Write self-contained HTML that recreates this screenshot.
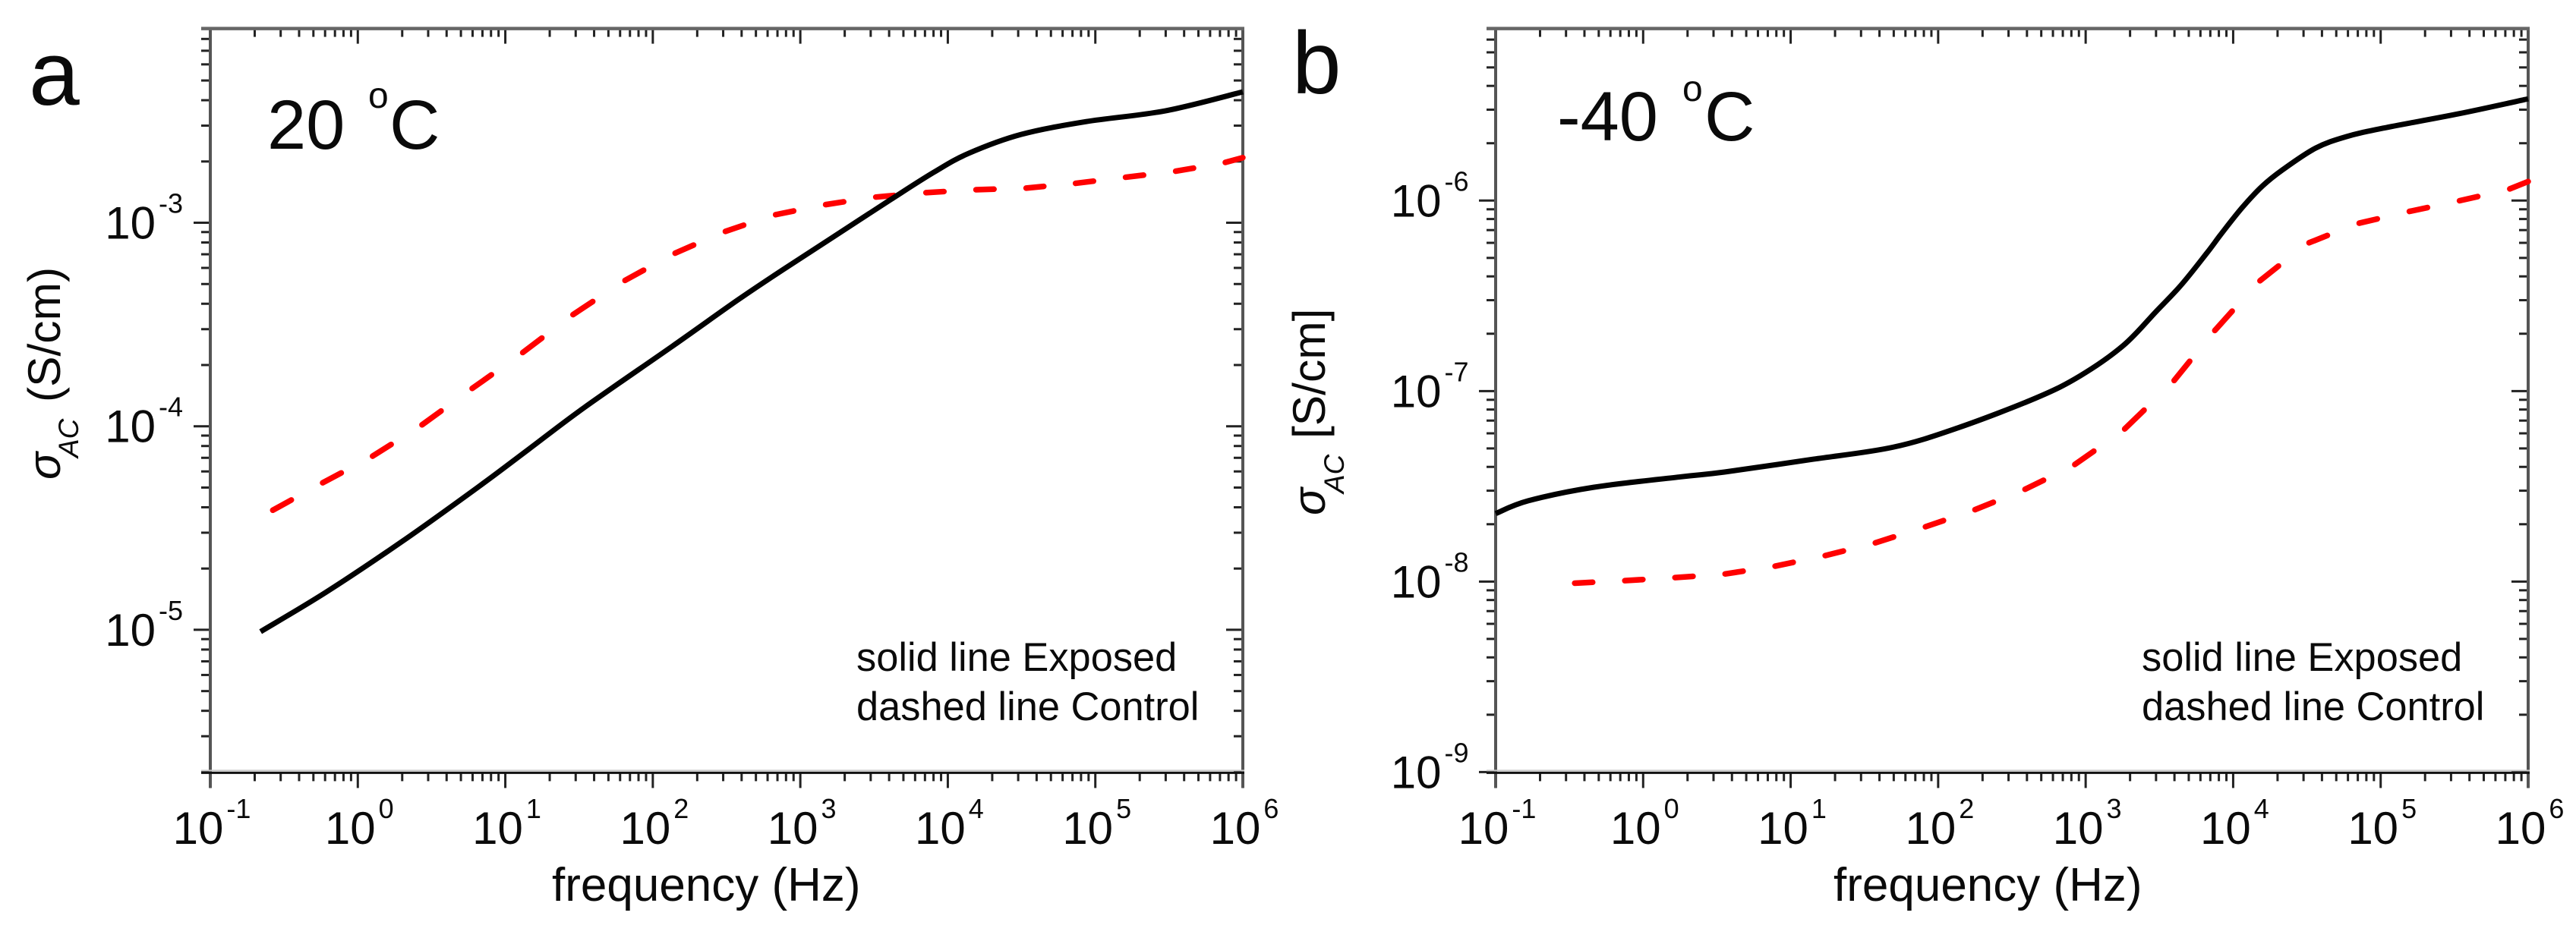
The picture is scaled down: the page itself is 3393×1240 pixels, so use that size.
<!DOCTYPE html>
<html lang="en">
<head>
<meta charset="utf-8">
<title>AC conductivity vs frequency</title>
<style>
html,body{margin:0;padding:0;background:#fff;width:3393px;height:1240px;overflow:hidden}
svg{display:block}
text{font-family:"Liberation Sans",sans-serif;fill:#0a0a0a}
</style>
</head>
<body>
<svg id="figure" xmlns="http://www.w3.org/2000/svg" width="3393" height="1240" viewBox="0 0 3393 1240">
  <rect x="0" y="0" width="3393" height="1240" fill="#fff"/>

  <g id="panel-a">
    <text x="38" y="138" font-size="120">a</text>
    <text x="352" y="196" font-size="92">20</text>
    <text x="485" y="142" font-size="48">o</text>
    <text x="513" y="196" font-size="92">C</text>
    <text x="727" y="1187" font-size="62">frequency (Hz)</text>
    <text transform="translate(79,632) rotate(-90)" font-size="60" font-style="italic">σ</text>
    <text transform="translate(103,603) rotate(-90)" font-size="37" font-style="italic">AC</text>
    <text transform="translate(79,530) rotate(-90)" font-size="60.5">(S/cm)</text>
    <text x="1128" y="884" font-size="52.4">solid line Exposed</text>
    <text x="1128" y="949" font-size="52.4">dashed line Control</text>
  </g>

  <g id="panel-b">
    <text x="1702" y="122.6" font-size="116">b</text>
    <text x="2051" y="185" font-size="92">-40</text>
    <text x="2216" y="133" font-size="48">o</text>
    <text x="2245" y="185" font-size="92">C</text>
    <text x="2415" y="1187" font-size="62">frequency (Hz)</text>
    <text transform="translate(1745,679) rotate(-90)" font-size="60" font-style="italic">σ</text>
    <text transform="translate(1770,650) rotate(-90)" font-size="37" font-style="italic">AC</text>
    <text transform="translate(1745,578) rotate(-90)" font-size="60.5">[S/cm]</text>
    <text x="2821" y="884" font-size="52.4">solid line Exposed</text>
    <text x="2821" y="949" font-size="52.4">dashed line Control</text>
  </g>
</svg>

<script>
// Tick labels (log10 exponents)
var xTickExponents = [-1, 0, 1, 2, 3, 4, 5, 6];
var yTickExponentsA = [-3, -4, -5];
var yTickExponentsB = [-6, -7, -8, -9];

// Panel a, 20 C: log10(frequency / Hz) and log10(sigma / S/cm)
var exposedLogFreqA = [-0.659, -0.213, 0.302, 0.817, 1.160, 1.537, 2.134, 2.577, 2.875, 3.225, 3.611, 3.905, 4.141, 4.497, 4.939, 5.475, 6];
var exposedLogSigmaA = [-5.009, -4.814, -4.565, -4.298, -4.112, -3.907, -3.606, -3.379, -3.234, -3.069, -2.887, -2.752, -2.659, -2.566, -2.503, -2.45, -2.357];
var controlLogFreqA = [-0.593, -0.255, 0.084, 0.420, 0.760, 1.103, 1.443, 1.795, 2.134, 2.474, 2.814, 3.153, 3.493, 3.833, 4.172, 4.512, 4.847, 5.186, 5.526, 5.863, 6];
var controlLogSigmaA = [-4.419, -4.284, -4.154, -4.001, -3.822, -3.646, -3.459, -3.290, -3.155, -3.047, -2.963, -2.913, -2.875, -2.853, -2.838, -2.831, -2.808, -2.778, -2.749, -2.707, -2.680];

// Panel b, -40 C
var exposedLogFreqB = [-1, -0.779, -0.336, 0.256, 0.552, 1.141, 1.692, 2.134, 2.664, 2.963, 3.255, 3.478, 3.649, 3.821, 3.924, 4.061, 4.198, 4.336, 4.558, 4.764, 5.022, 5.531, 6];
var exposedLogSigmaB = [-7.643, -7.576, -7.505, -7.450, -7.425, -7.359, -7.295, -7.193, -7.036, -6.920, -6.761, -6.582, -6.442, -6.276, -6.170, -6.037, -5.924, -5.838, -5.725, -5.665, -5.619, -5.544, -5.466];
var controlLogFreqB = [-0.483, -0.143, 0.197, 0.537, 0.876, 1.216, 1.556, 1.896, 2.232, 2.572, 2.911, 3.251, 3.588, 3.863, 4.167, 4.497, 4.836, 5.176, 5.516, 5.858, 6];
var controlLogSigmaB = [-8.009, -7.996, -7.980, -7.962, -7.922, -7.867, -7.801, -7.717, -7.628, -7.522, -7.394, -7.209, -6.956, -6.693, -6.430, -6.227, -6.122, -6.060, -6.004, -5.944, -5.900];

var SVG_NS = 'http://www.w3.org/2000/svg';

function makeEl(tag, parent) {
  var el = document.createElementNS(SVG_NS, tag);
  parent.appendChild(el);
  return el;
}

function linearScale(d0, d1, p0, p1) {
  return function (v) { return p0 + (v - d0) * (p1 - p0) / (d1 - d0); };
}

function drawLine(parent, x1, y1, x2, y2, color, width) {
  var l = makeEl('line', parent);
  l.setAttribute('x1', x1);
  l.setAttribute('y1', y1);
  l.setAttribute('x2', x2);
  l.setAttribute('y2', y2);
  l.setAttribute('stroke', color);
  l.setAttribute('stroke-width', width);
  return l;
}

function smoothPath(pts) {
  var d = 'M' + pts[0][0].toFixed(2) + ' ' + pts[0][1].toFixed(2);
  for (var i = 0; i < pts.length - 1; i++) {
    var p0 = pts[Math.max(0, i - 1)], p1 = pts[i], p2 = pts[i + 1], p3 = pts[Math.min(pts.length - 1, i + 2)];
    var c1x = p1[0] + (p2[0] - p0[0]) / 6, c1y = p1[1] + (p2[1] - p0[1]) / 6;
    var c2x = p2[0] - (p3[0] - p1[0]) / 6, c2y = p2[1] - (p3[1] - p1[1]) / 6;
    d += ' C' + c1x.toFixed(2) + ' ' + c1y.toFixed(2) + ' ' + c2x.toFixed(2) + ' ' + c2y.toFixed(2) + ' ' + p2[0].toFixed(2) + ' ' + p2[1].toFixed(2);
  }
  return d;
}

function drawTickLabel(parent, exponent, x, y, anchor) {
  var t = makeEl('text', parent);
  
  
  t.setAttribute('x', x);
  t.setAttribute('y', y);
  t.setAttribute('text-anchor', anchor);
  t.setAttribute('font-size', '60');
  var base = makeEl('tspan', t);
  base.textContent = '10';
  var sup = makeEl('tspan', t);
  sup.setAttribute('font-size', '36');
  sup.setAttribute('dx', '4');
  sup.setAttribute('dy', '-34');
  sup.textContent = String(exponent);
}

function drawPanel(root, left, right, top, bottom, yMinLog, yMaxLog, yExps, yLabelRight, exposedF, exposedS, controlF, controlS) {
  var xScale = linearScale(-1, 6, left, right);
  var yScale = linearScale(yMinLog, yMaxLog, bottom, top);
  var eps = 1e-6;
  var tickColor = '#222';

  var axes = makeEl('g', root);
  
  

  // x ticks
  for (var e = -1; e <= 6; e++) {
    for (var m = 1; m <= 9; m++) {
      var lx = e + Math.log10(m);
      if (lx > 6 + eps) continue;
      var major = m === 1;
      var px = xScale(lx);
      var bt = drawLine(axes, px, bottom, px, bottom + (major ? 21 : 12), tickColor, 3);
      
      
      var tt = drawLine(axes, px, top, px, top + (major ? 20 : 11), tickColor, 3);
      
      
    }
  }

  // y ticks
  for (var ye = Math.floor(yMinLog); ye <= Math.ceil(yMaxLog); ye++) {
    for (var ym = 1; ym <= 9; ym++) {
      var ly = ye + Math.log10(ym);
      if (ly < yMinLog - 0.001 || ly > yMaxLog + 0.001) continue;
      var ymajor = ym === 1;
      var py = yScale(ly);
      var lt = drawLine(axes, left, py, left - (ymajor ? 22 : 12), py, tickColor, 3);
      
      
      var rt = drawLine(axes, right, py, right - (ymajor ? 22 : 12), py, tickColor, 3);
      
      
    }
  }

  // frame
  var frameLeft = drawLine(axes, left, top - 2, left, bottom + 21, '#555', 4);
  
  
  var frameRight = drawLine(axes, right, top - 2, right, bottom + 21, '#555', 4);
  
  
  var frameTop = drawLine(axes, left - 12, top, right + 2, top, '#666', 4.5);
  
  
  var frameBottomShade = drawLine(axes, left - 12, bottom - 2, right + 2, bottom - 2, '#c8c8c8', 2);
  
  
  var frameBottom = drawLine(axes, left - 12, bottom + 1, right + 2, bottom + 1, '#111', 3);
  
  

  // tick labels
  xTickExponents.forEach(function (exp) {
    drawTickLabel(root, exp, xScale(exp) + 2, 1112, 'middle');
  });
  yExps.forEach(function (exp) {
    drawTickLabel(root, exp, yLabelRight, yScale(exp) + 21, 'end');
  });

  // control: dashed red, each dash runs from one value part-way to the next
  var control = makeEl('g', root);
  
  
  var capRadius = 3.7;
  for (var c = 0; c < controlF.length - 1; c++) {
    var isLast = c === controlF.length - 2;
    var frac = isLast ? 1 : 0.47;
    var x0 = xScale(controlF[c]), y0 = yScale(controlS[c]);
    var x1 = xScale(controlF[c + 1]), y1 = yScale(controlS[c + 1]);
    var ex = x0 + (x1 - x0) * frac, ey = y0 + (y1 - y0) * frac;
    var len = Math.sqrt((ex - x0) * (ex - x0) + (ey - y0) * (ey - y0));
    var ux = (ex - x0) / len, uy = (ey - y0) / len;
    var dash = drawLine(control, x0 + ux * capRadius, y0 + uy * capRadius, ex - (isLast ? 0 : ux * capRadius), ey - (isLast ? 0 : uy * capRadius), '#ff0000', 7.5);
    dash.setAttribute('stroke-linecap', 'round');
    
    
  }

  // exposed: solid black
  var pts = exposedF.map(function (f, i) { return [xScale(f), yScale(exposedS[i])]; });
  var line = makeEl('path', root);
  
  
  line.setAttribute('d', smoothPath(pts));
  line.setAttribute('fill', 'none');
  line.setAttribute('stroke', '#000');
  line.setAttribute('stroke-width', '7');
}

drawPanel(document.getElementById('panel-a'), 277, 1637, 37.6, 1017.4,
  Math.log10(2e-6), Math.log10(9e-3), yTickExponentsA, 241,
  exposedLogFreqA, exposedLogSigmaA, controlLogFreqA, controlLogSigmaA);

drawPanel(document.getElementById('panel-b'), 1970, 3330, 37.6, 1017.4,
  -9, Math.log10(8e-6), yTickExponentsB, 1934.5,
  exposedLogFreqB, exposedLogSigmaB, controlLogFreqB, controlLogSigmaB);
</script>
</body>
</html>
